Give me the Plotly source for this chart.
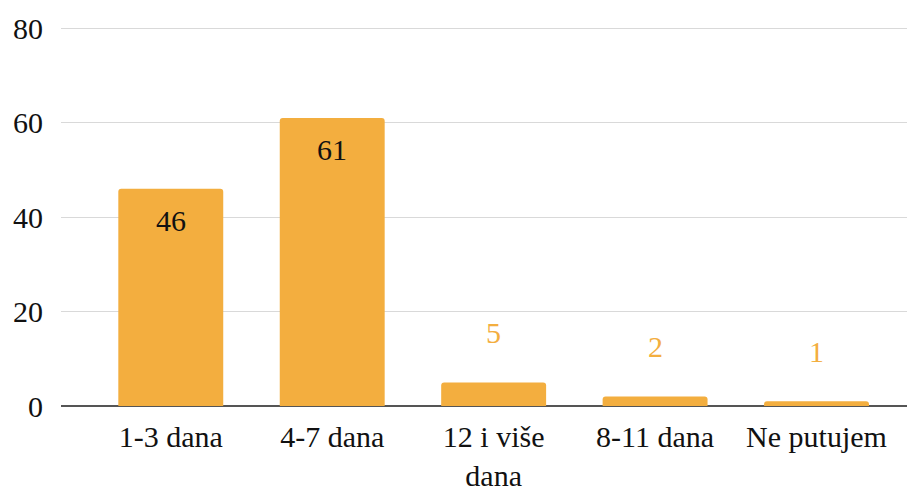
import plotly.graph_objects as go

categories = ["1-3 dana", "4-7 dana", "12 i više<br>dana", "8-11 dana", "Ne putujem"]
values = [46, 61, 5, 2, 1]
y_ticks = [0, 20, 40, 60, 80]

BAR = "#F3AE3F"
FONT = "Liberation Serif"

fig = go.Figure()
fig.add_trace(go.Bar(x=categories, y=values, marker=dict(color=BAR, line=dict(width=0)),
                     width=0.65, hoverinfo="skip"))

for c, v in zip(categories, values):
    inside = v >= 20
    fig.add_annotation(x=c, y=v, text=str(v), showarrow=False,
                       yanchor="middle", xanchor="center",
                       yshift=-32 if inside else 50,
                       font=dict(family=FONT, size=30, color="#111111" if inside else "#F3AE3F"))

fig.update_layout(
    width=907, height=485,
    margin=dict(l=53, r=0, t=19, b=87, autoexpand=False),
    plot_bgcolor="white", paper_bgcolor="white",
    showlegend=False,
    barcornerradius=3,
    font=dict(family=FONT, size=30, color="#111111"),
    xaxis=dict(range=[-0.68, 4.61], showgrid=False, showline=False, ticks="", automargin=False,
               tickfont=dict(family=FONT, size=30, color="#111111"), ticklabelstandoff=10),
    yaxis=dict(range=[0, 80.25], tickvals=y_ticks, showgrid=True, gridcolor="#D9D9D9", gridwidth=1,
               zeroline=True, zerolinecolor="#555555", zerolinewidth=1.5, showline=False, ticks="",
               automargin=False,
               tickfont=dict(family=FONT, size=30, color="#111111"), ticklabelstandoff=17),
)

fig.write_html("out.html")
